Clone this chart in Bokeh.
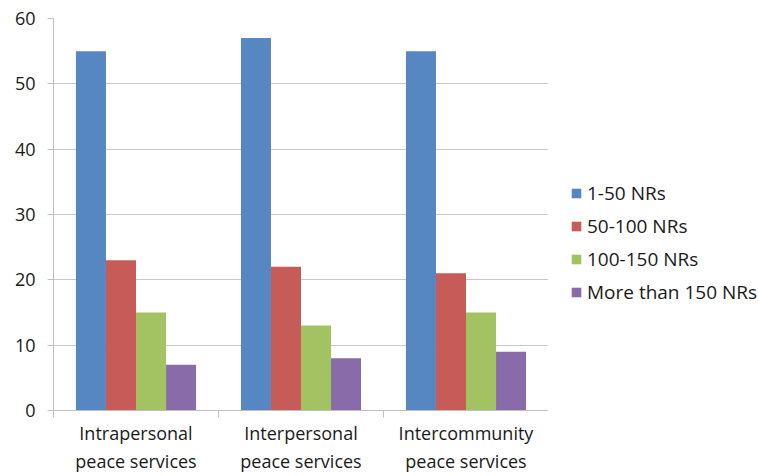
from bokeh.plotting import figure
from bokeh.models import Range1d, FixedTicker, Legend, LegendItem, ColumnDataSource
from bokeh.layouts import row
from bokeh.transform import dodge
from bokeh.embed import file_html
from bokeh.resources import INLINE
import numpy as np

categories = ["Intrapersonal\npeace services", "Interpersonal\npeace services", "Intercommunity\npeace services"]
series_names = ["1-50 NRs", "50-100 NRs", "100-150 NRs", "More than 150 NRs"]
v_1_50 = [55, 57, 55]
v_50_100 = [23, 22, 21]
v_100_150 = [15, 13, 15]
v_150_plus = [7, 8, 9]
colors = ["#5787C3", "#C65B57", "#A3C262", "#8A6BAA"]
y_ticks = [0, 10, 20, 30, 40, 50, 60]

centers = list(np.arange(len(categories)) + 0.5)
src = ColumnDataSource(dict(x=centers, a=v_1_50, b=v_50_100, c=v_100_150, d=v_150_plus))
cols = ["a", "b", "c", "d"]

FONT = "Open Sans"
p = figure(width=548, height=476, output_backend="svg", toolbar_location=None,
           x_range=Range1d(0, 3), y_range=Range1d(0, 60),
           min_border_left=53, min_border_right=0, min_border_top=18, min_border_bottom=20)
p.outline_line_color = None
p.background_fill_color = "white"
p.border_fill_color = "white"

bw = 0.182
offs = [-1.5 * bw, -0.5 * bw, 0.5 * bw, 1.5 * bw]
for col, off, c in zip(cols, offs, colors):
    p.vbar(x=dodge("x", off, range=p.x_range), top=col, width=bw, source=src,
           fill_color=c, line_color=None)

# axes
xa = p.xaxis[0]
xa.ticker = FixedTicker(ticks=centers, minor_ticks=[0, 1, 2, 3])
xa.major_label_overrides = {float(c): lab for c, lab in zip(centers, categories)}
xa.major_tick_line_color = None
xa.major_tick_out = 0
xa.major_tick_in = 0
xa.minor_tick_line_color = "#BFBFBF"
xa.minor_tick_out = 7
xa.minor_tick_in = 0
xa.axis_line_color = "#BFBFBF"
xa.major_label_text_font = FONT
xa.major_label_text_font_size = "18px"
xa.major_label_text_color = "#1a1a1a"
xa.major_label_standoff = 3

ya = p.yaxis[0]
ya.ticker = FixedTicker(ticks=y_ticks)
ya.minor_tick_line_color = None
ya.major_tick_line_color = "#BFBFBF"
ya.major_tick_out = 6
ya.major_tick_in = 0
ya.axis_line_color = "#BFBFBF"
ya.major_label_text_font = FONT
ya.major_label_text_font_size = "18px"
ya.major_label_text_color = "#1a1a1a"
ya.major_label_standoff = 12

p.xgrid.grid_line_color = None
p.ygrid.grid_line_color = "#C8C8C8"
p.ygrid.ticker = FixedTicker(ticks=y_ticks)

# legend panel (its bars lie outside its visible range; only the legend shows)
p2 = figure(width=210, height=476, output_backend="svg", toolbar_location=None,
            x_range=Range1d(-10, -9), y_range=Range1d(0, 1),
            min_border_left=0, min_border_right=0, min_border_top=0, min_border_bottom=0)
p2.axis.visible = False
p2.grid.visible = False
p2.outline_line_color = None
p2.border_fill_color = "white"
leg_renderers = []
for col, c in zip(cols, colors):
    leg_renderers.append(p2.vbar(x="x", top=col, width=bw, source=src, fill_color=c, line_color=None))

legend = Legend(items=[LegendItem(label=n, renderers=[r]) for n, r in zip(series_names, leg_renderers)],
                location=(22, 105), orientation="vertical")
legend.border_line_color = None
legend.background_fill_alpha = 0
legend.padding = 0
legend.margin = 0
legend.spacing = 7
legend.glyph_width = 12
legend.glyph_height = 12
legend.label_height = 20
legend.label_standoff = 5
legend.label_text_font = FONT
legend.label_text_font_size = "19px"
legend.label_text_color = "#1a1a1a"
p2.add_layout(legend, "center")

layout = row(p, p2, spacing=0)
open("out.html", "w").write(file_html(layout, INLINE))
